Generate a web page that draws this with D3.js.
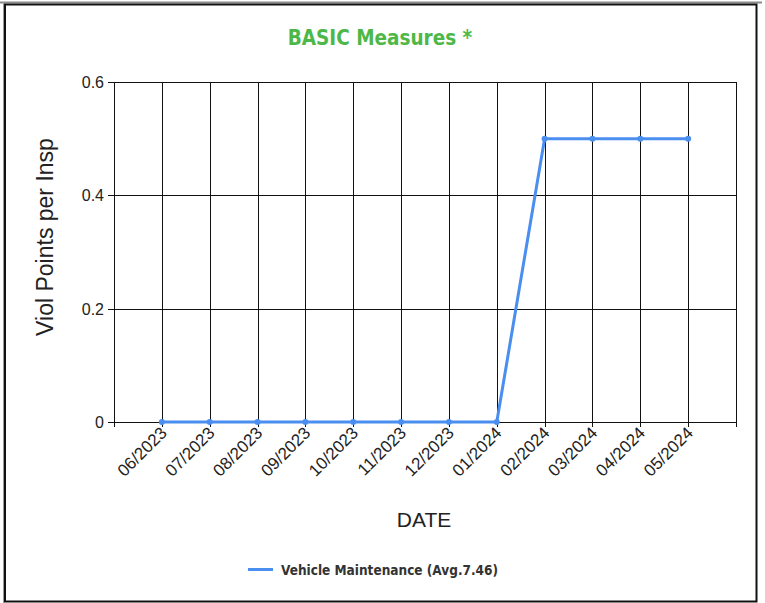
<!DOCTYPE html>
<html>
<head>
<meta charset="utf-8">
<script src="https://cdn.jsdelivr.net/npm/d3@7"></script>
<style>
  html, body { margin:0; padding:0; background:#fff; }
  svg { display:block; }
</style>
</head>
<body>
<svg id="stage" width="765" height="603"></svg>
<script>
(function(){
  const svg = d3.select("#stage");

  // ---- data ----
  const months = ["06/2023","07/2023","08/2023","09/2023","10/2023","11/2023",
                  "12/2023","01/2024","02/2024","03/2024","04/2024","05/2024"];
  const values = [0,0,0,0,0,0,0,0,0.5,0.5,0.5,0.5];
  const yTicks = [0,0.2,0.4,0.6];
  const seriesName = "Vehicle Maintenance (Avg.7.46)";

  const L=114, R=736, T=82, B=422;
  const lineColor = "#4a8eef";
  const ARIAL = "'Liberation Sans', Arial, sans-serif";
  const TAHOMA = "'DejaVu Sans Condensed', 'DejaVu Sans', sans-serif";

  // frame
  svg.append("line").attr("x1",0).attr("y1",2.5).attr("x2",762).attr("y2",2.5)
    .attr("stroke","#8a8a8a").attr("stroke-width",2);
  svg.append("line").attr("x1",3.5).attr("y1",2).attr("x2",3.5).attr("y2",603)
    .attr("stroke","#9a9a9a").attr("stroke-width",1);
  svg.append("rect").attr("x",5).attr("y",4.5).attr("width",751.5).attr("height",597)
    .attr("fill","none").attr("stroke","#111").attr("stroke-width",2);

  const x = d3.scalePoint().domain(months).range([L,R]).padding(1);
  const y = d3.scaleLinear().domain([0,0.6]).range([B,T]);

  // vertical grid
  const vx = [L, ...months.map(m=>x(m)), R];
  svg.append("g").selectAll("line").data(vx).join("line")
    .attr("x1",d=>Math.round(d)+0.5).attr("x2",d=>Math.round(d)+0.5)
    .attr("y1",T).attr("y2",B+5)
    .attr("stroke","#111").attr("stroke-width",1);

  // horizontal grid
  svg.append("g").selectAll("line").data(yTicks).join("line")
    .attr("x1",L-6).attr("x2",R)
    .attr("y1",d=>Math.round(y(d))+0.5).attr("y2",d=>Math.round(y(d))+0.5)
    .attr("stroke","#111").attr("stroke-width",1);

  // y labels
  svg.append("g").selectAll("text").data(yTicks).join("text")
    .attr("x",L-10).attr("y",d=>y(d)+6)
    .attr("text-anchor","end")
    .style("font-family",ARIAL)
    .style("font-size","16px").attr("fill","#222")
    .text(d=>d===0?"0":d3.format(".1f")(d));

  // x labels
  svg.append("g").selectAll("text").data(months).join("text")
    .attr("transform",d=>`translate(${x(d)+6},${B+12}) rotate(-45)`)
    .attr("text-anchor","end")
    .style("font-family",ARIAL)
    .style("font-size","17px").attr("fill","#222")
    .text(d=>d);

  // axis titles
  svg.append("text")
    .attr("transform",`translate(53,237) rotate(-90)`)
    .attr("text-anchor","middle")
    .style("font-family",ARIAL)
    .style("font-size","23px").attr("fill","#222")
    .text("Viol Points per Insp");
  svg.append("text")
    .attr("x",424).attr("y",527)
    .attr("text-anchor","middle")
    .style("font-family",ARIAL)
    .style("font-size","21px").attr("fill","#222")
    .text("DATE");

  // title
  svg.append("text")
    .attr("x",380).attr("y",45)
    .attr("text-anchor","middle")
    .style("font-family",TAHOMA)
    .style("font-weight","bold")
    .style("font-size","20.5px").attr("fill","#4db848")
    .text("BASIC Measures *");

  // series
  const pts = months.map((m,i)=>[x(m), y(values[i])]);
  svg.append("path").datum(pts)
    .attr("d", d3.line())
    .attr("fill","none").attr("stroke",lineColor).attr("stroke-width",3);
  svg.append("g").selectAll("circle").data(pts).join("circle")
    .attr("cx",d=>d[0]).attr("cy",d=>d[1]).attr("r",3)
    .attr("fill",lineColor);

  // legend
  svg.append("line").attr("x1",248).attr("x2",273).attr("y1",569.5).attr("y2",569.5)
    .attr("stroke",lineColor).attr("stroke-width",3);
  svg.append("text").attr("x",281).attr("y",575)
    .style("font-family",TAHOMA)
    .style("font-weight","bold")
    .style("font-size","13.5px").attr("fill","#333")
    .text(seriesName);
})();
</script>
</body>
</html>
